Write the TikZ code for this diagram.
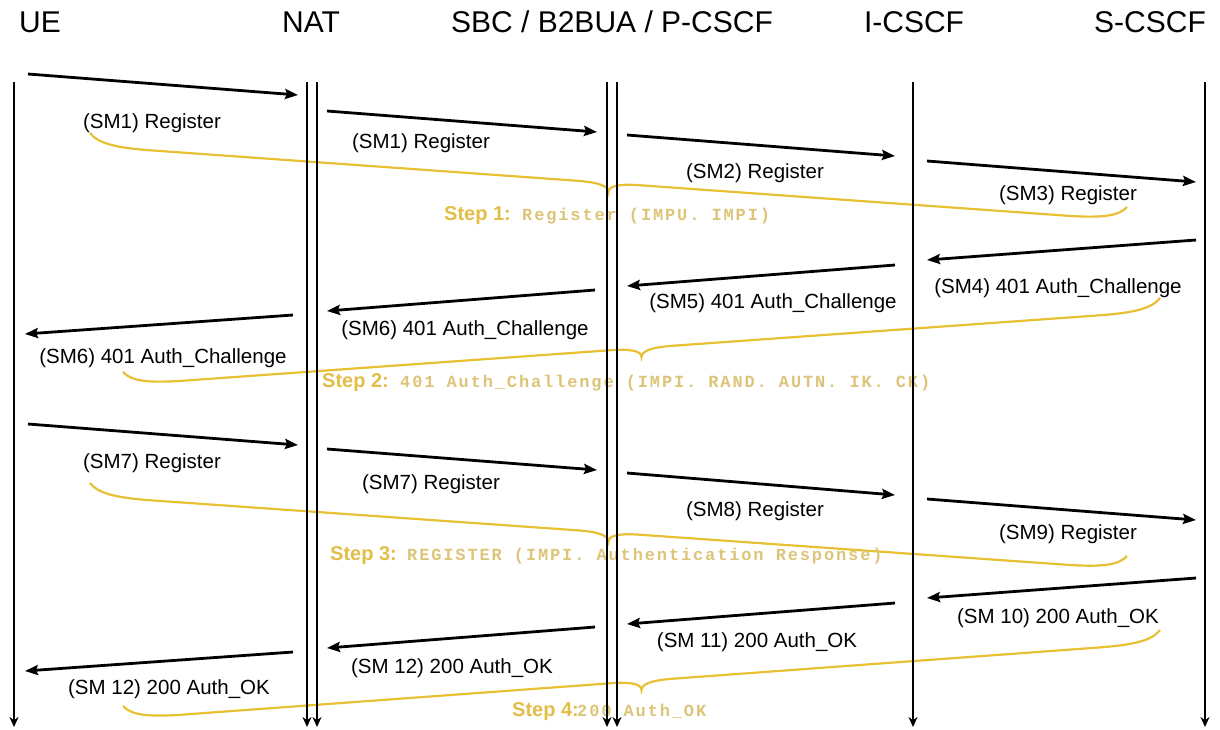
\documentclass[tikz,border=0pt]{standalone}
\usepackage{fontspec}
\setmainfont{Liberation Sans}
\newfontfamily\stepmono[LetterSpace=11]{Liberation Mono}
\usetikzlibrary{arrows.meta,calc}
\definecolor{stepgold}{RGB}{226,190,72}
\definecolor{monogold}{RGB}{220,196,120}
\definecolor{bracegold}{RGB}{232,192,52}

% curly brace under a group of messages, tip in the middle
\newcommand{\stepbrace}[2]{%
  \draw[brc] (#1)
    .. controls ($(#1)!0.008!(#2)+(0,10)$) and ($(#1)!0.025!(#2)+(0,13)$) .. ($(#1)!0.06!(#2)+(0,13)$)
    -- ($(#1)!0.47!(#2)+(0,13)$)
    .. controls ($(#1)!0.49!(#2)+(0,13)$) and ($(#1)!0.5!(#2)+(0,16)$) .. ($(#1)!0.5!(#2)+(0,22)$)
    .. controls ($(#1)!0.5!(#2)+(0,16)$) and ($(#1)!0.51!(#2)+(0,13)$) .. ($(#1)!0.53!(#2)+(0,13)$)
    -- ($(#1)!0.94!(#2)+(0,13)$)
    .. controls ($(#1)!0.975!(#2)+(0,13)$) and ($(#1)!0.992!(#2)+(0,10)$) .. (#2);}

\begin{document}
\begin{tikzpicture}[x=1pt,y=-1pt,
  head/.style={font=\fontsize{30}{36}\selectfont,anchor=base,inner sep=0pt},
  life/.style={line width=2.3pt,-{Stealth[length=10pt,width=9pt]}},
  msg/.style={line width=2.8pt,-{Stealth[length=13pt,width=10pt,inset=2pt]}},
  lbl/.style={font=\fontsize{20.5}{24}\selectfont,anchor=base,inner sep=0pt},
  brc/.style={bracegold,line width=2.2pt},
  steplbl/.style={font=\fontsize{20}{24}\selectfont\bfseries,text=stepgold,anchor=base west,inner sep=0pt},
  mono/.style={font=\fontsize{17}{20}\selectfont\stepmono\bfseries,text=monogold,anchor=base west,inner sep=0pt},
  ]
  \useasboundingbox (0,0) rectangle (1220,729);

  % entities
  \node[head] (ue)    at (40,32)   {UE};
  \node[head] (nat)   at (311,32)  {NAT};
  \node[head] (sbc)   at (612,32)  {SBC / B2BUA / P-CSCF};
  \node[head] (icscf) at (914,32)  {I-CSCF};
  \node[head] (scscf) at (1150,32) {S-CSCF};

  % braces and step captions
  \coordinate (b1l) at (90,133);  \coordinate (b1r) at (1127,207);
  \coordinate (b2l) at (123,372); \coordinate (b2r) at (1160,298);
  \coordinate (b3l) at (90,483);  \coordinate (b3r) at (1127,556);
  \coordinate (b4l) at (123,706); \coordinate (b4r) at (1160,630);
  \stepbrace{b1l}{b1r}
  \stepbrace{b2l}{b2r}
  \stepbrace{b3l}{b3r}
  \stepbrace{b4l}{b4r}

  \node[steplbl] (st1) at (444,220) {Step 1:};
  \node[mono]    (sm1) at (522,220) {Register (IMPU. IMPI)};
  \node[steplbl] (st2) at (322,387) {Step 2:};
  \node[mono]    (sm2) at (400,387) {401 Auth\_Challenge (IMPI. RAND. AUTN. IK. CK)};
  \node[steplbl] (st3) at (330,560) {Step 3:};
  \node[mono]    (sm3) at (407,560) {REGISTER (IMPI. Authentication Response)};
  \node[steplbl] (st4) at (512,716) {Step 4:};
  \node[mono]    (sm4) at (577,716) {200 Auth\_OK};

  % lifelines
  \foreach \n/\x in {ue/14,nata/307,natb/317,sbca/607,sbcb/617,icscf/913,scscf/1205} {
    \coordinate (\n-t) at (\x,82);
    \coordinate (\n-b) at (\x,727);
    \draw[life] (\n-t) -- (\n-b);
  }

  % messages
  \foreach \n/\xa/\ya/\xb/\yb in {1/28/74/298/95, 2/327/111/597/132, 3/627/135/895/156, 4/927/161/1196/182,
      5/1196/240/927/260, 6/895/265/627/286, 7/595/290/327/311, 8/293/315/25/334,
      9/28/424/298/445, 10/327/449/597/470, 11/627/473/895/495, 12/927/499/1196/520,
      13/1196/578/927/598, 14/895/603/627/624, 15/595/627/327/648, 16/293/652/25/671} {
    \coordinate (s\n) at (\xa,\ya);
    \coordinate (e\n) at (\xb,\yb);
    \draw[msg] (s\n) -- (e\n);
  }

  \node[lbl] (l1)  at (152,128)  {(SM1) Register};
  \node[lbl] (l2)  at (421,148)  {(SM1) Register};
  \node[lbl] (l3)  at (755,178)  {(SM2) Register};
  \node[lbl] (l4)  at (1068,200) {(SM3) Register};
  \node[lbl] (l5)  at (1058,293) {(SM4) 401 Auth\_Challenge};
  \node[lbl] (l6)  at (773,308)  {(SM5) 401 Auth\_Challenge};
  \node[lbl] (l7)  at (465,335)  {(SM6) 401 Auth\_Challenge};
  \node[lbl] (l8)  at (163,363)  {(SM6) 401 Auth\_Challenge};
  \node[lbl] (l9)  at (152,468)  {(SM7) Register};
  \node[lbl] (l10) at (431,489)  {(SM7) Register};
  \node[lbl] (l11) at (755,516)  {(SM8) Register};
  \node[lbl] (l12) at (1068,539) {(SM9) Register};
  \node[lbl] (l13) at (1058,623) {(SM 10) 200 Auth\_OK};
  \node[lbl] (l14) at (757,647)  {(SM 11) 200 Auth\_OK};
  \node[lbl] (l15) at (452,673)  {(SM 12) 200 Auth\_OK};
  \node[lbl] (l16) at (169,694)  {(SM 12) 200 Auth\_OK};
\end{tikzpicture}
\end{document}
